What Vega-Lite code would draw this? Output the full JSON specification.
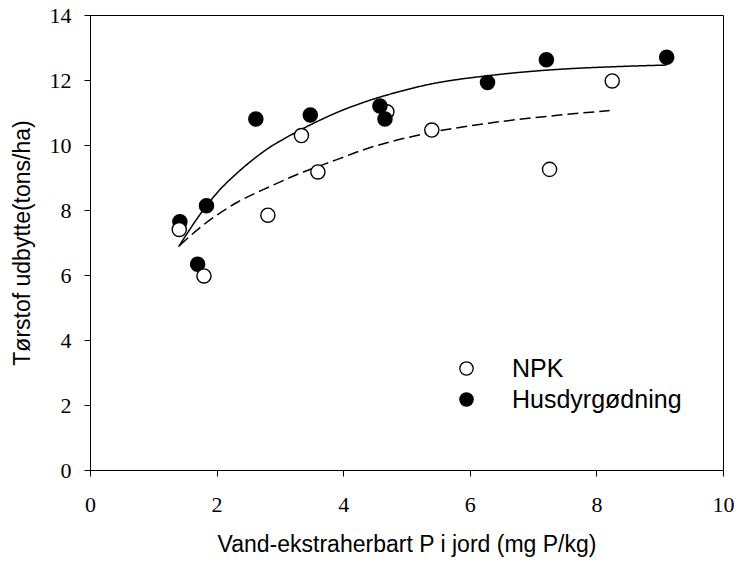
{
  "$schema": "https://vega.github.io/schema/vega-lite/v6.json",
  "width": 633,
  "height": 455,
  "autosize": {"type": "none"},
  "padding": {"left": 90, "top": 15, "right": 14, "bottom": 91},
  "background": "white",
  "config": {
    "view": {"stroke": "black", "strokeWidth": 1},
    "axis": {
      "domainColor": "black",
      "domainWidth": 1,
      "tickColor": "black",
      "tickSize": 6,
      "tickWidth": 1,
      "grid": false,
      "labelFont": "Liberation Serif",
      "labelFontSize": 22,
      "labelColor": "black",
      "titleFont": "Liberation Sans",
      "titleFontSize": 23,
      "titleFontWeight": "normal",
      "titleColor": "black"
    }
  },
  "datasets": {
    "points": [
      {"P": 1.42, "udbytte": 7.64, "group": "Husdyrgødning"},
      {"P": 1.41, "udbytte": 7.40, "group": "NPK"},
      {"P": 1.84, "udbytte": 8.13, "group": "Husdyrgødning"},
      {"P": 1.70, "udbytte": 6.33, "group": "Husdyrgødning"},
      {"P": 1.80, "udbytte": 5.97, "group": "NPK"},
      {"P": 2.62, "udbytte": 10.80, "group": "Husdyrgødning"},
      {"P": 3.48, "udbytte": 10.92, "group": "Husdyrgødning"},
      {"P": 3.34, "udbytte": 10.29, "group": "NPK"},
      {"P": 3.60, "udbytte": 9.17, "group": "NPK"},
      {"P": 2.81, "udbytte": 7.84, "group": "NPK"},
      {"P": 4.69, "udbytte": 11.02, "group": "NPK"},
      {"P": 4.58, "udbytte": 11.20, "group": "Husdyrgødning"},
      {"P": 4.66, "udbytte": 10.80, "group": "Husdyrgødning"},
      {"P": 5.40, "udbytte": 10.46, "group": "NPK"},
      {"P": 6.28, "udbytte": 11.92, "group": "Husdyrgødning"},
      {"P": 7.21, "udbytte": 12.62, "group": "Husdyrgødning"},
      {"P": 8.25, "udbytte": 11.97, "group": "NPK"},
      {"P": 7.26, "udbytte": 9.25, "group": "NPK"},
      {"P": 9.11, "udbytte": 12.70, "group": "Husdyrgødning"}
    ],
    "curves": [
      {"P": 1.40, "udbytte": 6.87, "fit": "Husdyrgødning"},
      {"P": 1.79, "udbytte": 8.00, "fit": "Husdyrgødning"},
      {"P": 2.05, "udbytte": 8.62, "fit": "Husdyrgødning"},
      {"P": 2.32, "udbytte": 9.13, "fit": "Husdyrgødning"},
      {"P": 2.58, "udbytte": 9.56, "fit": "Husdyrgødning"},
      {"P": 2.84, "udbytte": 9.93, "fit": "Husdyrgødning"},
      {"P": 3.11, "udbytte": 10.24, "fit": "Husdyrgødning"},
      {"P": 3.37, "udbytte": 10.51, "fit": "Husdyrgødning"},
      {"P": 3.63, "udbytte": 10.76, "fit": "Husdyrgødning"},
      {"P": 3.90, "udbytte": 11.00, "fit": "Husdyrgødning"},
      {"P": 4.35, "udbytte": 11.33, "fit": "Husdyrgødning"},
      {"P": 4.90, "udbytte": 11.65, "fit": "Husdyrgødning"},
      {"P": 5.32, "udbytte": 11.85, "fit": "Husdyrgødning"},
      {"P": 6.37, "udbytte": 12.15, "fit": "Husdyrgødning"},
      {"P": 7.42, "udbytte": 12.33, "fit": "Husdyrgødning"},
      {"P": 8.30, "udbytte": 12.41, "fit": "Husdyrgødning"},
      {"P": 9.11, "udbytte": 12.46, "fit": "Husdyrgødning"},
      {"P": 1.42, "udbytte": 6.92, "fit": "NPK"},
      {"P": 1.79, "udbytte": 7.54, "fit": "NPK"},
      {"P": 2.32, "udbytte": 8.23, "fit": "NPK"},
      {"P": 2.84, "udbytte": 8.72, "fit": "NPK"},
      {"P": 3.37, "udbytte": 9.17, "fit": "NPK"},
      {"P": 3.90, "udbytte": 9.55, "fit": "NPK"},
      {"P": 4.27, "udbytte": 9.82, "fit": "NPK"},
      {"P": 5.32, "udbytte": 10.36, "fit": "NPK"},
      {"P": 6.37, "udbytte": 10.69, "fit": "NPK"},
      {"P": 7.42, "udbytte": 10.92, "fit": "NPK"},
      {"P": 8.21, "udbytte": 11.06, "fit": "NPK"}
    ]
  },
  "encoding": {
    "x": {
      "field": "P",
      "type": "quantitative",
      "scale": {"domain": [0, 10], "nice": false, "zero": false},
      "axis": {
        "values": [0, 2, 4, 6, 8, 10],
        "format": "d",
        "title": "Vand-ekstraherbart P i jord (mg P/kg)",
        "labelPadding": 18,
        "titlePadding": 18,
        "labelFlush": false
      }
    },
    "y": {
      "field": "udbytte",
      "type": "quantitative",
      "scale": {"domain": [0, 14], "nice": false, "zero": false},
      "axis": {
        "values": [0, 2, 4, 6, 8, 10, 12, 14],
        "format": "d",
        "title": "Tørstof udbytte(tons/ha)",
        "labelPadding": 13,
        "titlePadding": 15,
        "labelFlush": false
      }
    }
  },
  "layer": [
    {
      "data": {"name": "curves"},
      "mark": {"type": "line", "color": "black", "strokeWidth": 1.5, "interpolate": "monotone"},
      "encoding": {
        "detail": {"field": "fit", "type": "nominal"},
        "strokeDash": {
          "field": "fit",
          "type": "nominal",
          "scale": {"domain": ["Husdyrgødning", "NPK"], "range": [[1, 0], [11, 5]]},
          "legend": null
        }
      }
    },
    {
      "data": {"name": "points"},
      "mark": {"type": "point", "shape": "circle", "filled": true, "size": 200, "stroke": "black", "strokeWidth": 1.4, "opacity": 1},
      "encoding": {
        "fill": {
          "field": "group",
          "type": "nominal",
          "scale": {"domain": ["NPK", "Husdyrgødning"], "range": ["white", "black"]},
          "legend": {
            "title": null,
            "orient": "none",
            "legendX": 364,
            "legendY": 341,
            "symbolType": "circle",
            "symbolSize": 177,
            "symbolStrokeColor": "black",
            "symbolStrokeWidth": 1.3,
            "labelFont": "Liberation Sans",
            "labelFontSize": 25,
            "labelColor": "black",
            "labelOffset": 33,
            "labelLimit": 300,
            "rowPadding": 5,
            "padding": 0
          }
        }
      }
    }
  ]
}
